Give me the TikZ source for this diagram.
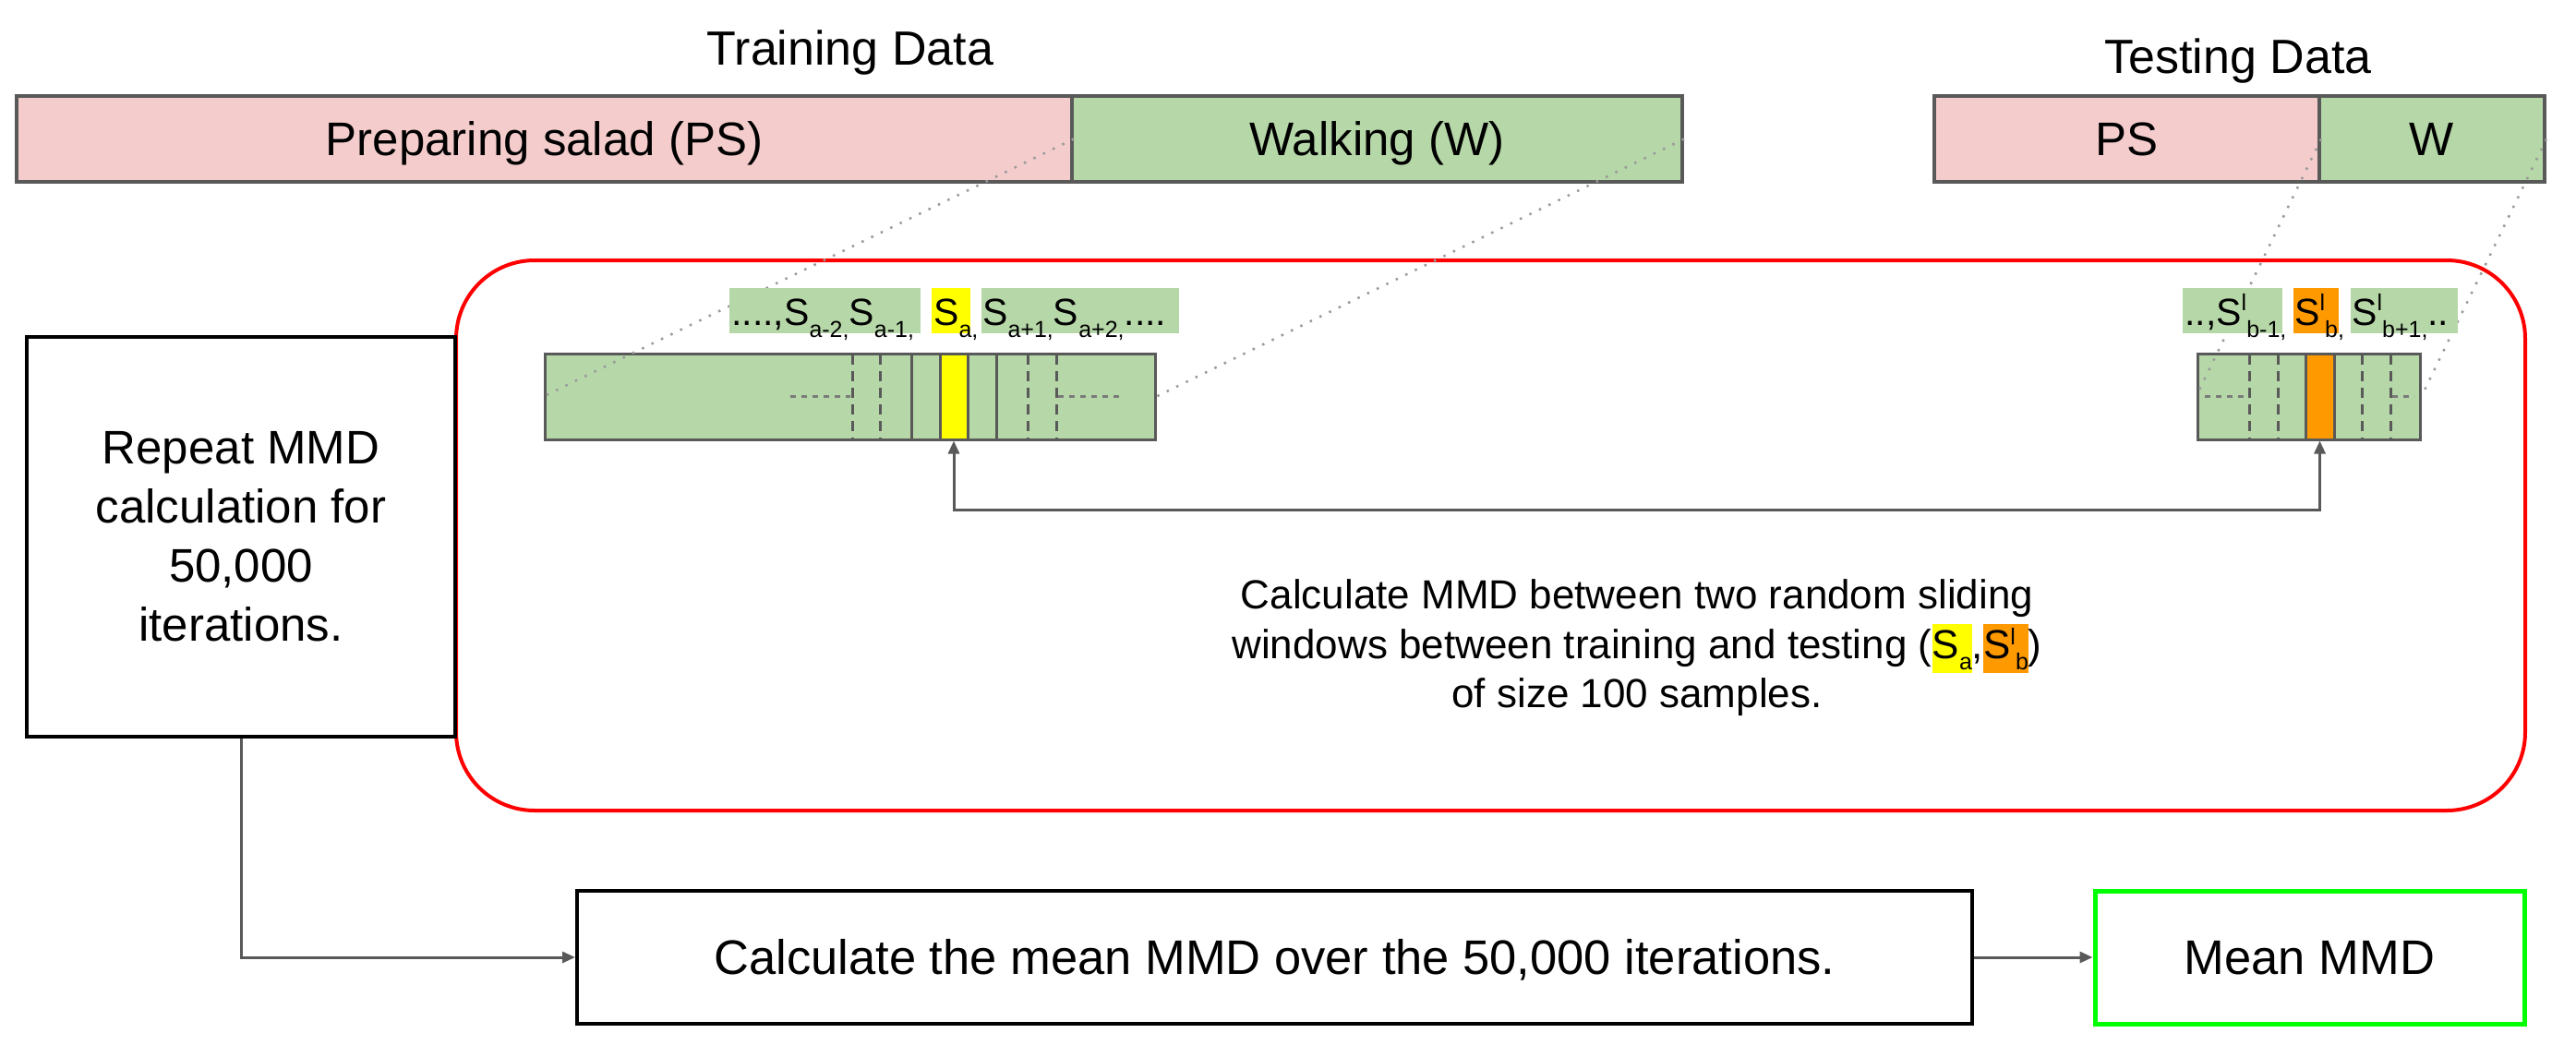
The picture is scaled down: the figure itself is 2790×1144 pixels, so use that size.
\documentclass[tikz,border=0pt]{standalone}
\usepackage{fontspec}
\setmainfont{Liberation Sans}
\usetikzlibrary{arrows.meta}
\definecolor{pinkfill}{HTML}{F4CCCC}
\definecolor{greenfill}{HTML}{B6D7A8}
\definecolor{hlyellow}{HTML}{FFFF00}
\definecolor{hlorange}{HTML}{FF9900}
\definecolor{edgegray}{HTML}{595959}
\definecolor{dotgray}{HTML}{9A9A9A}
\definecolor{meangreen}{HTML}{00FF00}
\newcommand{\lsub}[1]{\raisebox{-13pt}{\fontsize{25}{25}\selectfont #1}}
\newcommand{\lsup}[1]{\raisebox{16pt}{\fontsize{25}{25}\selectfont #1}}
\newcommand{\msub}[1]{\raisebox{-12pt}{\fontsize{25}{25}\selectfont #1}}
\newcommand{\msup}[1]{\raisebox{15pt}{\fontsize{25}{25}\selectfont #1}}
\begin{document}
\begin{tikzpicture}[x=1pt,y=-1pt,
  bar/.style={draw=edgegray, line width=4pt, minimum height=93pt, inner sep=0pt,
    text height=36pt, text depth=0pt, font=\fontsize{51}{60}\selectfont},
  title/.style={inner sep=0pt, anchor=base, font=\fontsize{52}{62}\selectfont},
  win/.style={draw=edgegray, fill=greenfill, line width=3pt, minimum height=93pt, inner sep=0pt},
  celldash/.style={edgegray, line width=3pt, dash pattern=on 11pt off 7pt},
  cellline/.style={edgegray, line width=3pt},
  celldot/.style={edgegray!80, line width=3pt, dash pattern=on 6pt off 6pt},
  zoomline/.style={dotgray, line width=2.5pt, dash pattern=on 2.5pt off 9pt},
  lab/.style={inner sep=0pt, minimum height=49pt, draw=none},
  ltext/.style={inner sep=0pt, anchor=base west, font=\fontsize{41}{48}\selectfont},
  blk/.style={draw=black, line width=4pt, inner sep=0pt},
  conn/.style={edgegray, line width=3pt, -{Triangle[length=14pt,width=12pt]}},
]
\fill[white] (0,0) rectangle (2790,1144);
\useasboundingbox (0,0) rectangle (2790,1144);

% titles
\node[title] (trT) at (921,70) {Training Data};
\node[title] (teT) at (2424,79) {Testing Data};

% top bars
\node[bar, fill=pinkfill, minimum width=1143pt] (trPS) at (589.5,150.5) {Preparing salad (PS)};
\node[bar, fill=greenfill, minimum width=661pt] (trW) at (1491.5,150.5) {Walking (W)};
\node[bar, fill=pinkfill, minimum width=417pt] (teP) at (2303.5,150.5) {PS};
\node[bar, fill=greenfill, minimum width=244pt] (teW) at (2634,150.5) {W};

% red loop box
\node[draw=red, line width=4pt, rounded corners=85pt, minimum width=2241pt,
  minimum height=596pt, inner sep=0pt] (loop) at (1614.5,580) {};

% left box
\node[blk, minimum width=464pt, minimum height=433pt, align=center,
  font=\fontsize{51}{64}\selectfont] (rep) at (261,581.5)
  {Repeat MMD\\calculation for\\50,000\\iterations.};

% training window strip
\node[win, minimum width=661pt] (winA) at (920.5,429.5) {};
\foreach \xx in {923,953,1113,1144} \draw[celldash] (\xx,384) -- (\xx,475);
\foreach \xx in {987,1079} \draw[cellline] (\xx,384) -- (\xx,475);
\draw[celldot] (856,429.5) -- (921,429.5);
\draw[celldot] (1146,429.5) -- (1212,429.5);
\node[win, fill=hlyellow, minimum width=30pt] (sa) at (1033,429.5) {};

% testing window strip
\node[win, minimum width=241pt] (winB) at (2500.5,429.5) {};
\foreach \xx in {2436,2467,2558,2589} \draw[celldash] (\xx,384) -- (\xx,475);
\draw[celldot] (2388,429.5) -- (2434,429.5);
\draw[celldot] (2591,429.5) -- (2615,429.5);
\node[win, fill=hlorange, minimum width=31pt] (sb) at (2512.5,429.5) {};

% zoom lines
\draw[zoomline] (trPS.east) -- (winA.west);
\draw[zoomline] (trW.east) -- (winA.east);
\draw[zoomline] (teP.east) -- (winB.west);
\draw[zoomline] (teW.east) -- (winB.east);

% label strips
\node[lab, fill=greenfill, minimum width=207pt] (la1) at (893.5,336.5) {};
\node[lab, fill=hlyellow, minimum width=42pt] (la2) at (1030,336.5) {};
\node[lab, fill=greenfill, minimum width=214pt] (la3) at (1170,336.5) {};
\node[ltext] (lt1) at (792,352) {....,S\lsub{a-2,}S\lsub{a-1,}};
\node[ltext] (lt2) at (1011,352) {S\lsub{a,}};
\node[ltext] (lt3) at (1064,352) {S\lsub{a+1,}S\lsub{a+2,}....};

\node[lab, fill=greenfill, minimum width=108pt] (lb1) at (2418,336.5) {};
\node[lab, fill=hlorange, minimum width=49pt] (lb2) at (2508.5,336.5) {};
\node[lab, fill=greenfill, minimum width=116pt] (lb3) at (2604,336.5) {};
\node[ltext] (rt1) at (2366,352) {..,S\lsup{l}\lsub{b-1,}};
\node[ltext] (rt2) at (2485,352) {S\lsup{l}\lsub{b,}};
\node[ltext] (rt3) at (2547,352) {S\lsup{l}\lsub{b+1,}..};

% arrow between windows
\draw[conn, {Triangle[length=14pt,width=12pt]}-{Triangle[length=14pt,width=12pt]}]
  (sa.south) -- ++(0,75) -| (sb.south);

% middle text
\setlength{\fboxsep}{0pt}
\node[font=\fontsize{44}{53.5}\selectfont, align=center, inner sep=0pt] (calc) at (1773,702)
  {Calculate MMD between two random sliding\\
   windows between training and testing (\colorbox{hlyellow}{\strut S\msub{a}},\colorbox{hlorange}{\strut S\msup{l}\msub{b}})\\
   of size 100 samples.};

% bottom row
\node[blk, minimum width=1511pt, minimum height=144pt, font=\fontsize{52.5}{62}\selectfont,
  text height=37pt, text depth=0pt] (calcmean) at (1380.5,1037)
  {Calculate the mean MMD over the 50,000 iterations.};
\node[draw=meangreen, line width=5pt, inner sep=0pt, minimum width=465pt, minimum height=144pt,
  font=\fontsize{52.5}{62}\selectfont, text height=37pt, text depth=0pt] (mean) at (2501.5,1037)
  {Mean MMD};

\draw[conn] (rep.south) |- (calcmean.west);
\draw[conn] (calcmean.east) -- (mean.west);
\end{tikzpicture}
\end{document}
